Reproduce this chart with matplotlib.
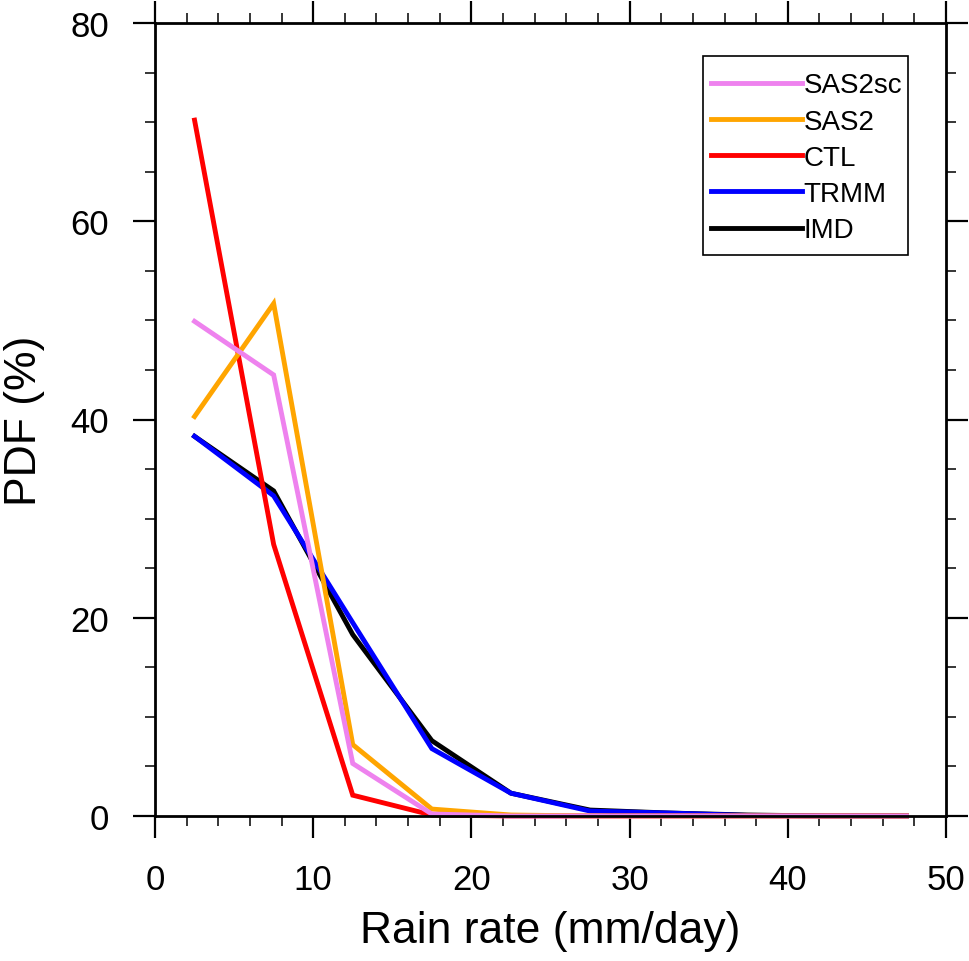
import matplotlib
matplotlib.use("Agg")
import matplotlib.pyplot as plt
from matplotlib.ticker import MultipleLocator
from matplotlib.patches import Rectangle

plt.rcParams['font.family'] = ['Liberation Sans', 'DejaVu Sans']

rain_rate = [2.5, 7.5, 12.5, 17.5, 22.5, 27.5, 32.5, 37.5, 42.5, 47.5]
imd    = [38.3, 32.8, 18.3, 7.6, 2.3, 0.6, 0.3, 0.1, 0.0, 0.0]
trmm   = [38.3, 32.3, 19.5, 6.8, 2.3, 0.5, 0.3, 0.05, 0.0, 0.0]
ctl    = [70.2, 27.4, 2.1, 0.1, 0.0, 0.0, 0.0, 0.0, 0.0, 0.0]
sas2   = [40.3, 51.7, 7.2, 0.7, 0.1, 0.0, 0.0, 0.0, 0.0, 0.0]
sas2sc = [49.9, 44.5, 5.3, 0.2, 0.0, 0.0, 0.0, 0.0, 0.0, 0.0]

series = [
    ("IMD", imd, "black"),
    ("TRMM", trmm, "blue"),
    ("CTL", ctl, "red"),
    ("SAS2", sas2, "orange"),
    ("SAS2sc", sas2sc, "violet"),
]

W, H = 969, 962
AX_L, AX_R, AX_T, AX_B = 155, 946, 24, 817

fig = plt.figure(figsize=(W/100, H/100), dpi=100)
ax = fig.add_axes([AX_L/W, 1-AX_B/H, (AX_R-AX_L)/W, (AX_B-AX_T)/H])

handles = []
for name, vals, col in series:
    h, = ax.plot(rain_rate, vals, color=col, lw=3.5, label=name, clip_on=False,
                 solid_joinstyle='miter')
    handles.append(h)

ax.set_xlim(0, 50)
ax.set_ylim(0, 80)
ax.xaxis.set_major_locator(MultipleLocator(10))
ax.xaxis.set_minor_locator(MultipleLocator(2))
ax.yaxis.set_major_locator(MultipleLocator(20))
ax.yaxis.set_minor_locator(MultipleLocator(5))

for s in ax.spines.values():
    s.set_linewidth(2.0)

ax.tick_params(which='major', direction='out', length=16, width=1.6,
               labelsize=25, pad=17, top=True, right=True)
ax.tick_params(which='minor', direction='out', length=7.5, width=1.1,
               top=True, right=True)
ax.tick_params(axis='x', which='major', pad=18)

ax.set_xlabel("Rain rate (mm/day)", fontsize=32, labelpad=10)
ax.set_ylabel("PDF (%)", fontsize=32, labelpad=18)

def ax_frac(px, py):
    return ((px-AX_L)/(AX_R-AX_L), (AX_B-py)/(AX_B-AX_T))

leg = ax.legend(handles[::-1], [h.get_label() for h in handles[::-1]],
                loc='upper left', bbox_to_anchor=ax_frac(703, 65),
                borderaxespad=0, fontsize=20, handlelength=3.27, handletextpad=0.05,
                labelspacing=0.37, borderpad=0.3, frameon=False)
for lh in leg.get_lines():
    lh.set_linewidth(3.5)

x0, y1 = ax_frac(703, 57)
x1, y0 = ax_frac(908, 256)
ax.add_patch(Rectangle((x0, y0), x1-x0, y1-y0, transform=ax.transAxes,
                       fill=False, edgecolor='black', lw=1.2, zorder=5))

fig.savefig("out.png", dpi=100)
